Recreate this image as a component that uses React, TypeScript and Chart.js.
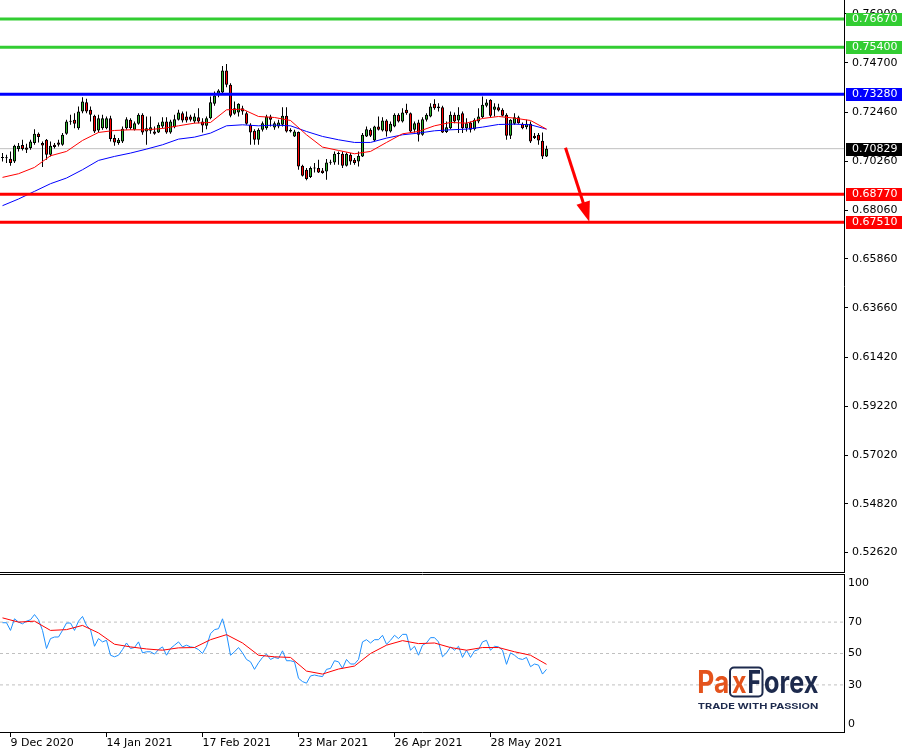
import React, { useEffect, useRef } from 'react';
import { Chart, registerables } from 'chart.js';

Chart.register(...registerables);

// ---------- data ----------
const tickIndex = [2, 26, 50, 74, 98, 122];
const tickLabels = ['9 Dec 2020', '14 Jan 2021', '17 Feb 2021', '23 Mar 2021', '26 Apr 2021', '28 May 2021'];

const opens = [
  0.70405, 0.7042, 0.70375, 0.70255, 0.7081, 0.7099, 0.70885, 0.70855, 0.7108, 0.715,
  0.7108, 0.7123, 0.70555, 0.71005, 0.7111, 0.71005, 0.715, 0.7204, 0.7213, 0.71755,
  0.72505, 0.72925, 0.7258, 0.7231, 0.7165, 0.71755, 0.71755, 0.72205, 0.71305, 0.7108,
  0.71155, 0.71755, 0.7213, 0.7168, 0.7195, 0.72355, 0.71605, 0.71635, 0.71605, 0.7156,
  0.7183, 0.72055, 0.7156, 0.718, 0.7213, 0.7243, 0.7228, 0.7228, 0.72055, 0.7225,
  0.72055, 0.7186, 0.72205, 0.7285, 0.733, 0.7336, 0.7435, 0.73705, 0.724, 0.7246,
  0.72655, 0.7243, 0.71905, 0.71635, 0.7123, 0.7168, 0.71755, 0.7228, 0.71785, 0.7183,
  0.71905, 0.7231, 0.71605, 0.7138, 0.71575, 0.7006, 0.6988, 0.6955, 0.6994, 0.69955,
  0.6985, 0.69805, 0.70195, 0.7021, 0.70585, 0.706, 0.7006, 0.70555, 0.7033, 0.70255,
  0.7048, 0.7138, 0.7168, 0.712, 0.7183, 0.7165, 0.721, 0.71605, 0.7183, 0.72355,
  0.72055, 0.7258, 0.7243, 0.7168, 0.7201, 0.71455, 0.7213, 0.7228, 0.7285, 0.7273,
  0.727, 0.71575, 0.71755, 0.72355, 0.721, 0.7243, 0.71755, 0.7201, 0.7171, 0.72055,
  0.7225, 0.7276, 0.7303, 0.7258, 0.727, 0.7258, 0.72355, 0.7141, 0.7195, 0.7225,
  0.7195, 0.718, 0.7195, 0.7141, 0.71455, 0.71185, 0.7048,
];
const highs = [
  0.7063, 0.70555, 0.70705, 0.71005, 0.7108, 0.7123, 0.7105, 0.7123, 0.7171, 0.7156,
  0.71155, 0.7126, 0.71155, 0.7108, 0.7123, 0.7153, 0.7213, 0.72355, 0.7243, 0.7273,
  0.7315, 0.73075, 0.7273, 0.72355, 0.72355, 0.72355, 0.7228, 0.7231, 0.71455, 0.71305,
  0.7183, 0.7225, 0.72205, 0.72055, 0.7243, 0.7243, 0.7228, 0.7228, 0.7183, 0.7201,
  0.7225, 0.7225, 0.7213, 0.72355, 0.7258, 0.72505, 0.72505, 0.72355, 0.7243, 0.72655,
  0.72205, 0.7228, 0.7318, 0.73405, 0.7351, 0.7456, 0.7465, 0.7378, 0.72955, 0.7288,
  0.7276, 0.72505, 0.7198, 0.7171, 0.71755, 0.72055, 0.72355, 0.72355, 0.72055, 0.7213,
  0.727, 0.727, 0.71755, 0.7168, 0.71605, 0.70105, 0.69955, 0.7003, 0.7018, 0.7033,
  0.69955, 0.7036, 0.7033, 0.70705, 0.70705, 0.70705, 0.7066, 0.7063, 0.70405, 0.70705,
  0.7153, 0.7183, 0.71755, 0.7186, 0.7228, 0.7225, 0.7216, 0.72055, 0.7243, 0.7243,
  0.72655, 0.7285, 0.7246, 0.72055, 0.7213, 0.7225, 0.7243, 0.7288, 0.7306, 0.7288,
  0.7276, 0.72055, 0.72505, 0.7246, 0.727, 0.72505, 0.72205, 0.72055, 0.72205, 0.72655,
  0.7318, 0.7306, 0.7306, 0.7288, 0.7285, 0.72655, 0.7243, 0.7216, 0.7243, 0.7231,
  0.7201, 0.7213, 0.72055, 0.7153, 0.7153, 0.7156, 0.7096,
];
const lows = [
  0.70255, 0.7018, 0.7006, 0.7018, 0.70705, 0.7075, 0.7063, 0.7078, 0.71005, 0.7111,
  0.700, 0.7033, 0.7048, 0.7084, 0.7093, 0.7096, 0.71455, 0.71905, 0.71755, 0.7168,
  0.7243, 0.7243, 0.72055, 0.7153, 0.7156, 0.7168, 0.7171, 0.71155, 0.7096, 0.71005,
  0.7108, 0.7168, 0.7168, 0.7165, 0.71905, 0.71455, 0.71005, 0.715, 0.71455, 0.7153,
  0.71755, 0.715, 0.715, 0.71755, 0.721, 0.7201, 0.7201, 0.72055, 0.7198, 0.7198,
  0.7156, 0.7171, 0.7216, 0.7276, 0.7315, 0.73255, 0.736, 0.7225, 0.72355, 0.7228,
  0.72355, 0.71905, 0.71005, 0.71005, 0.71005, 0.71605, 0.7168, 0.7183, 0.7168, 0.71755,
  0.7183, 0.7156, 0.7156, 0.7135, 0.6988, 0.6958, 0.694, 0.69505, 0.6976, 0.6973,
  0.697, 0.6943, 0.70105, 0.70105, 0.70105, 0.69955, 0.7003, 0.70105, 0.70105, 0.7003,
  0.7045, 0.7135, 0.7135, 0.71155, 0.7165, 0.71605, 0.7138, 0.7156, 0.718, 0.7201,
  0.7201, 0.72355, 0.7153, 0.7156, 0.71155, 0.7141, 0.72055, 0.7225, 0.7258, 0.72505,
  0.7153, 0.7153, 0.7171, 0.7198, 0.7153, 0.7153, 0.71605, 0.7156, 0.7165, 0.7198,
  0.72205, 0.727, 0.7225, 0.7228, 0.72505, 0.7228, 0.7123, 0.7126, 0.71905, 0.7195,
  0.7171, 0.7171, 0.7108, 0.7126, 0.71005, 0.7036, 0.7045,
];
const closes = [
  0.70435, 0.704, 0.7018, 0.7096, 0.7096, 0.7081, 0.7078, 0.71155, 0.715, 0.7135,
  0.70975, 0.70555, 0.7096, 0.709, 0.71005, 0.71455, 0.72055, 0.7207, 0.7195, 0.72505,
  0.72955, 0.72505, 0.72355, 0.71605, 0.72205, 0.72205, 0.72205, 0.7126, 0.7111, 0.7123,
  0.71725, 0.7216, 0.71755, 0.7198, 0.72355, 0.7156, 0.71755, 0.718, 0.715, 0.71905,
  0.72055, 0.7156, 0.72055, 0.7216, 0.7246, 0.721, 0.721, 0.7213, 0.7228, 0.72055,
  0.71875, 0.72205, 0.72925, 0.73225, 0.7345, 0.7435, 0.73705, 0.7231, 0.72655, 0.7285,
  0.72505, 0.7195, 0.7156, 0.7123, 0.7168, 0.7198, 0.7228, 0.7213, 0.7198, 0.7201,
  0.7231, 0.71605, 0.7168, 0.71605, 0.7003, 0.6961, 0.6946, 0.69955, 0.6997, 0.6976,
  0.6973, 0.7021, 0.70225, 0.706, 0.70615, 0.7006, 0.706, 0.70255, 0.7018, 0.7051,
  0.71455, 0.7171, 0.7141, 0.7183, 0.7168, 0.721, 0.71605, 0.7195, 0.72355, 0.72055,
  0.7246, 0.7243, 0.71605, 0.7198, 0.71455, 0.7216, 0.72355, 0.7273, 0.72655, 0.72655,
  0.7156, 0.718, 0.72355, 0.72055, 0.72355, 0.71755, 0.7198, 0.7168, 0.7213, 0.7228,
  0.72805, 0.7291, 0.7231, 0.7273, 0.7255, 0.7231, 0.7141, 0.7213, 0.7225, 0.7198,
  0.71755, 0.7195, 0.71155, 0.71305, 0.712, 0.7048, 0.70829,
];

const maIndex = [
  0, 4, 8, 12, 16, 20, 24, 28, 32, 36, 40, 44, 48, 52, 56, 60, 64, 68,
  72, 76, 80, 84, 88, 92, 96, 100, 104, 108, 112, 116, 120, 124, 128, 132, 136,
];
const maFast = [
  0.69535, 0.697, 0.69985, 0.7051, 0.70705, 0.712, 0.7156, 0.7165, 0.7168, 0.7168,
  0.7174, 0.7186, 0.7198, 0.7201, 0.7258, 0.7261, 0.7228, 0.72235, 0.721, 0.71455,
  0.709, 0.7075, 0.706, 0.70705, 0.7111, 0.715, 0.71605, 0.7186, 0.7201, 0.7198,
  0.7219, 0.7228, 0.72205, 0.721, 0.7171,
];
const maSlow = [
  0.6826, 0.6856, 0.68905, 0.6925, 0.69505, 0.6988, 0.703, 0.7048, 0.7063, 0.7081,
  0.71005, 0.7126, 0.7135, 0.7153, 0.7186, 0.71905, 0.7186, 0.7189, 0.7186, 0.71605,
  0.7138, 0.7123, 0.7111, 0.7111, 0.71305, 0.71455, 0.7153, 0.71635, 0.7168, 0.7171,
  0.718, 0.7192, 0.71935, 0.71905, 0.7171,
];

const rsi = [
  69.6, 69.6, 64.7, 72.1, 70.0, 68.9, 70.6, 71.5, 74.8, 71.5,
  64.7, 53.2, 59.5, 60.5, 60.5, 64.7, 69.4, 69.4, 64.7, 70.6,
  73.6, 67.9, 65.2, 54.6, 59.5, 57.4, 58.4, 48.9, 47.9, 48.9,
  52.5, 56.7, 53.2, 53.8, 57.4, 50.4, 51.1, 51.1, 49.6, 52.5,
  54.2, 48.9, 53.2, 55.3, 57.4, 54.2, 55.3, 54.2, 53.8, 52.5,
  50.0, 54.6, 62.6, 65.2, 65.8, 72.1, 62.6, 48.9, 51.1, 53.8,
  50.4, 46.2, 44.7, 39.9, 44.1, 47.5, 49.6, 46.2, 47.5, 46.8,
  51.7, 45.4, 45.4, 44.7, 34.2, 32.1, 31.1, 35.7, 36.3, 35.7,
  35.3, 39.9, 40.5, 45.4, 44.7, 40.5, 46.2, 43.3, 43.3, 46.2,
  57.4, 58.8, 56.7, 58.8, 58.8, 61.6, 55.9, 58.4, 61.6, 59.5,
  62.2, 62.2, 52.1, 54.6, 48.9, 55.3, 56.7, 60.1, 60.1, 57.4,
  47.9, 50.4, 54.2, 52.1, 54.6, 47.5, 52.1, 47.5, 51.7, 52.5,
  57.4, 58.4, 52.1, 54.6, 54.2, 52.1, 43.1, 50.4, 48.9, 46.8,
  46.2, 47.5, 41.6, 43.3, 42.6, 36.9, 39.9,
];
const rsiMa = [
  72.7, 70.0, 70.6, 64.7, 65.2, 67.9, 63.1, 55.9, 54.2, 52.9,
  52.1, 53.6, 53.8, 58.8, 62.0, 56.7, 48.9, 47.9, 47.5, 38.8,
  36.9, 40.1, 42.0, 50.0, 55.3, 58.2, 56.3, 56.7, 53.8, 52.1,
  53.8, 53.8, 51.1, 48.9, 43.1,
];

const priceTicks = [0.769, 0.747, 0.7246, 0.7026, 0.6806, 0.6586, 0.6366, 0.6142, 0.5922, 0.5702, 0.5482, 0.5262];
const levelValues = [0.7667, 0.754, 0.7328, 0.6877, 0.6751];
const levelColors = ['#32cd32', '#32cd32', '#0000ff', '#ff0000', '#ff0000'];
const lastPrice = 0.70829;
const rsiLevels = [70, 50, 30];
const rsiTicks = [100, 70, 50, 30, 0];
const arrowStart = [140.75, 0.7087];
const arrowEnd = [146.7, 0.67537];

// ---------- layout constants ----------
const X_MIN = -0.625;
const X_MAX = 210.375;
const Y_MIN = 0.51701;
const Y_MAX = 0.77531;
const AXIS_W = 63;
const FONT = { family: 'DejaVu Sans', size: 11 };
const FONT_CSS = '11px "DejaVu Sans"';
const BULL = '#2db52d';
const BEAR = '#ff0000';
const ORANGE = '#e4531c';
const NAVY = '#1d2a4d';

const hline = (v: number) => [{ x: X_MIN, y: v }, { x: X_MAX, y: v }];

function drawFit(ctx: CanvasRenderingContext2D, text: string, x: number, y: number, w: number, font: string, color: string, baseline: CanvasTextBaseline = 'alphabetic') {
  ctx.save();
  ctx.font = font;
  ctx.fillStyle = color;
  ctx.textBaseline = baseline;
  ctx.textAlign = 'left';
  const m = ctx.measureText(text).width || 1;
  ctx.translate(x, y);
  ctx.scale(w / m, 1);
  ctx.fillText(text, 0, 0);
  ctx.restore();
}

const mainPlugin = {
  id: 'mainDecor',
  afterDraw(chart: any) {
    const { ctx, chartArea, scales } = chart;
    const xs = scales.x;
    const ys = scales.y;
    ctx.save();
    ctx.strokeStyle = '#000';
    ctx.lineWidth = 1;
    ctx.beginPath();
    ctx.moveTo(chartArea.right + 0.5, 0);
    ctx.lineTo(chartArea.right + 0.5, chartArea.bottom);
    ctx.moveTo(0, chartArea.bottom - 0.5);
    ctx.lineTo(chartArea.right + 1, chartArea.bottom - 0.5);
    ctx.stroke();

    // arrow
    const x1 = xs.getPixelForValue(arrowStart[0]);
    const y1 = ys.getPixelForValue(arrowStart[1]);
    const x2 = xs.getPixelForValue(arrowEnd[0]);
    const y2 = ys.getPixelForValue(arrowEnd[1]);
    const ang = Math.atan2(y2 - y1, x2 - x1);
    const headLen = 20;
    const headW = 7;
    const bx = x2 - headLen * Math.cos(ang);
    const by = y2 - headLen * Math.sin(ang);
    ctx.strokeStyle = '#ff0000';
    ctx.fillStyle = '#ff0000';
    ctx.lineWidth = 3;
    ctx.beginPath();
    ctx.moveTo(x1, y1);
    ctx.lineTo(bx + Math.cos(ang) * 2, by + Math.sin(ang) * 2);
    ctx.stroke();
    ctx.beginPath();
    ctx.moveTo(x2, y2);
    ctx.lineTo(bx - headW * Math.sin(ang), by + headW * Math.cos(ang));
    ctx.lineTo(bx + headW * Math.sin(ang), by - headW * Math.cos(ang));
    ctx.closePath();
    ctx.fill();

    // price boxes
    const boxes = levelValues.map((v, k) => ({ v, c: levelColors[k] }));
    boxes.push({ v: lastPrice, c: '#000000' });
    ctx.font = FONT_CSS;
    ctx.textBaseline = 'middle';
    ctx.textAlign = 'left';
    boxes.forEach(({ v, c }) => {
      const py = ys.getPixelForValue(v);
      ctx.fillStyle = c;
      ctx.fillRect(chartArea.right + 2, Math.round(py) - 6, 56, 13);
      ctx.fillStyle = '#ffffff';
      ctx.fillText(v.toFixed(5), chartArea.right + 8, Math.round(py) + 0.5);
    });
    ctx.restore();
  },
};

const rsiPlugin = {
  id: 'rsiDecor',
  afterDraw(chart: any) {
    const { ctx, chartArea, scales } = chart;
    const { top, bottom, right } = chartArea;
    const ys = scales.y;
    ctx.save();
    ctx.strokeStyle = '#000';
    ctx.lineWidth = 1;
    ctx.beginPath();
    ctx.moveTo(0, top - 0.5);
    ctx.lineTo(right + 1, top - 0.5);
    ctx.moveTo(0, bottom + 0.5);
    ctx.lineTo(right + 1, bottom + 0.5);
    ctx.moveTo(right + 0.5, top - 1);
    ctx.lineTo(right + 0.5, bottom + 1);
    ctx.stroke();

    ctx.font = FONT_CSS;
    ctx.fillStyle = '#000';
    ctx.textBaseline = 'middle';
    ctx.textAlign = 'left';
    rsiTicks.forEach((v) => {
      let py = ys.getPixelForValue(v);
      py = Math.max(top + 8, Math.min(bottom - 8, py));
      ctx.fillText(String(v), right + 4, py);
    });

    // logo
    const base = 119.7;
    const big = 'bold 31px Inter';
    drawFit(ctx, 'Pa', 697.3, base, 32, big, ORANGE);
    ctx.strokeStyle = NAVY;
    ctx.lineWidth = 2;
    ctx.beginPath();
    (ctx as any).roundRect(730, 94.5, 32.5, 29, 4);
    ctx.stroke();
    drawFit(ctx, 'x', 732, base, 14.5, big, ORANGE);
    drawFit(ctx, 'F', 747.5, base, 13.5, big, NAVY);
    drawFit(ctx, 'orex', 764, base, 54.3, big, NAVY);
    drawFit(ctx, 'TRADE WITH PASSION', 697.7, 133.7, 120.6, 'bold 8px Inter', NAVY, 'middle');
    ctx.restore();
  },
};

export default function App() {
  const mainRef = useRef<HTMLCanvasElement>(null);
  const rsiRef = useRef<HTMLCanvasElement>(null);

  useEffect(() => {
    const mainChart = new Chart(mainRef.current as HTMLCanvasElement, {
      type: 'bar',
      data: {
        datasets: [
          {
            type: 'line',
            label: 'last',
            data: hline(lastPrice),
            borderColor: '#c0c0c0',
            borderWidth: 1,
            pointRadius: 0,
            order: 20,
          } as any,
          {
            type: 'bar',
            label: 'wicks',
            data: closes.map((_, i) => ({ x: i, y: [lows[i], highs[i]] })),
            backgroundColor: '#000000',
            borderWidth: 0,
            barThickness: 1,
            grouped: false,
            inflateAmount: 0,
            order: 10,
          } as any,
          {
            type: 'bar',
            label: 'bodies',
            data: closes.map((c, i) => ({ x: i, y: [opens[i], c] })),
            backgroundColor: closes.map((c, i) => (c >= opens[i] ? BULL : BEAR)),
            borderColor: '#000000',
            borderWidth: 1,
            borderSkipped: false,
            barThickness: 3,
            minBarLength: 1,
            grouped: false,
            inflateAmount: 0,
            order: 9,
          } as any,
          {
            type: 'line',
            label: 'MA slow',
            data: maIndex.map((x, k) => ({ x, y: maSlow[k] })),
            borderColor: '#0000ff',
            borderWidth: 1,
            pointRadius: 0,
            order: 5,
          } as any,
          {
            type: 'line',
            label: 'MA fast',
            data: maIndex.map((x, k) => ({ x, y: maFast[k] })),
            borderColor: '#ff0000',
            borderWidth: 1,
            pointRadius: 0,
            order: 4,
          } as any,
          ...levelValues.map((v, k) => ({
            type: 'line',
            label: 'level ' + v,
            data: hline(v),
            borderColor: levelColors[k],
            borderWidth: 3,
            pointRadius: 0,
            order: 1,
          } as any)),
        ],
      },
      options: {
        responsive: false,
        animation: false,
        events: [],
        layout: { padding: 0 },
        plugins: { legend: { display: false }, tooltip: { enabled: false } },
        scales: {
          x: { type: 'linear', min: X_MIN, max: X_MAX, offset: false, display: false },
          y: {
            type: 'linear',
            position: 'right',
            min: Y_MIN,
            max: Y_MAX,
            afterBuildTicks: (s: any) => {
              s.ticks = priceTicks.map((v) => ({ value: v }));
            },
            afterFit: (s: any) => {
              s.width = AXIS_W;
              s.paddingTop = 0;
              s.paddingBottom = 0;
            },
            ticks: {
              font: FONT,
              color: '#000',
              padding: 4,
              autoSkip: false,
              callback: (v: any) => Number(v).toFixed(5),
            },
            grid: { drawOnChartArea: false, drawTicks: true, tickLength: 4, color: '#000' },
            border: { display: false },
          },
        },
      } as any,
      plugins: [mainPlugin],
    });

    const rsiChart = new Chart(rsiRef.current as HTMLCanvasElement, {
      type: 'line',
      data: {
        datasets: [
          ...rsiLevels.map((v) => ({
            label: 'lvl ' + v,
            data: hline(v),
            borderColor: '#c0c0c0',
            borderWidth: 1,
            borderDash: [3, 3],
            pointRadius: 0,
            order: 10,
          })),
          {
            label: 'RSI',
            data: rsi.map((v, i) => ({ x: i, y: v })),
            borderColor: '#1e90ff',
            borderWidth: 1,
            pointRadius: 0,
            order: 2,
          },
          {
            label: 'RSI MA',
            data: maIndex.map((x, k) => ({ x, y: rsiMa[k] })),
            borderColor: '#ff0000',
            borderWidth: 1,
            pointRadius: 0,
            order: 1,
          },
        ],
      } as any,
      options: {
        responsive: false,
        animation: false,
        events: [],
        layout: { padding: { top: 2, left: 0, right: 0, bottom: 0 } },
        plugins: { legend: { display: false }, tooltip: { enabled: false } },
        scales: {
          x: {
            type: 'linear',
            position: 'bottom',
            min: X_MIN,
            max: X_MAX,
            offset: false,
            afterBuildTicks: (s: any) => {
              s.ticks = tickIndex.map((v) => ({ value: v }));
            },
            afterFit: (s: any) => {
              s.height = 18;
              s.paddingLeft = 0;
              s.paddingRight = 0;
            },
            ticks: {
              font: FONT,
              color: '#000',
              padding: 0,
              align: 'start',
              maxRotation: 0,
              autoSkip: false,
              callback: (v: any) => {
                const k = tickIndex.indexOf(Number(v));
                return k >= 0 ? tickLabels[k] : '';
              },
            },
            grid: { drawOnChartArea: false, drawTicks: true, tickLength: 5, color: '#000' },
            border: { display: false },
          },
          y: {
            type: 'linear',
            position: 'right',
            min: 0,
            max: 100,
            afterFit: (s: any) => {
              s.width = AXIS_W;
              s.paddingTop = 0;
              s.paddingBottom = 0;
            },
            ticks: { display: false },
            grid: { display: false },
            border: { display: false },
          },
        },
      } as any,
      plugins: [rsiPlugin],
    });

    return () => {
      mainChart.destroy();
      rsiChart.destroy();
    };
  }, []);

  return (
    <div style={{ position: 'absolute', left: 0, top: 0, width: 907, height: 750, background: '#ffffff' }}>
      <canvas ref={mainRef} width={907} height={573} style={{ position: 'absolute', left: 0, top: 0 }} />
      <canvas ref={rsiRef} width={907} height={177} style={{ position: 'absolute', left: 0, top: 573 }} />
    </div>
  );
}
